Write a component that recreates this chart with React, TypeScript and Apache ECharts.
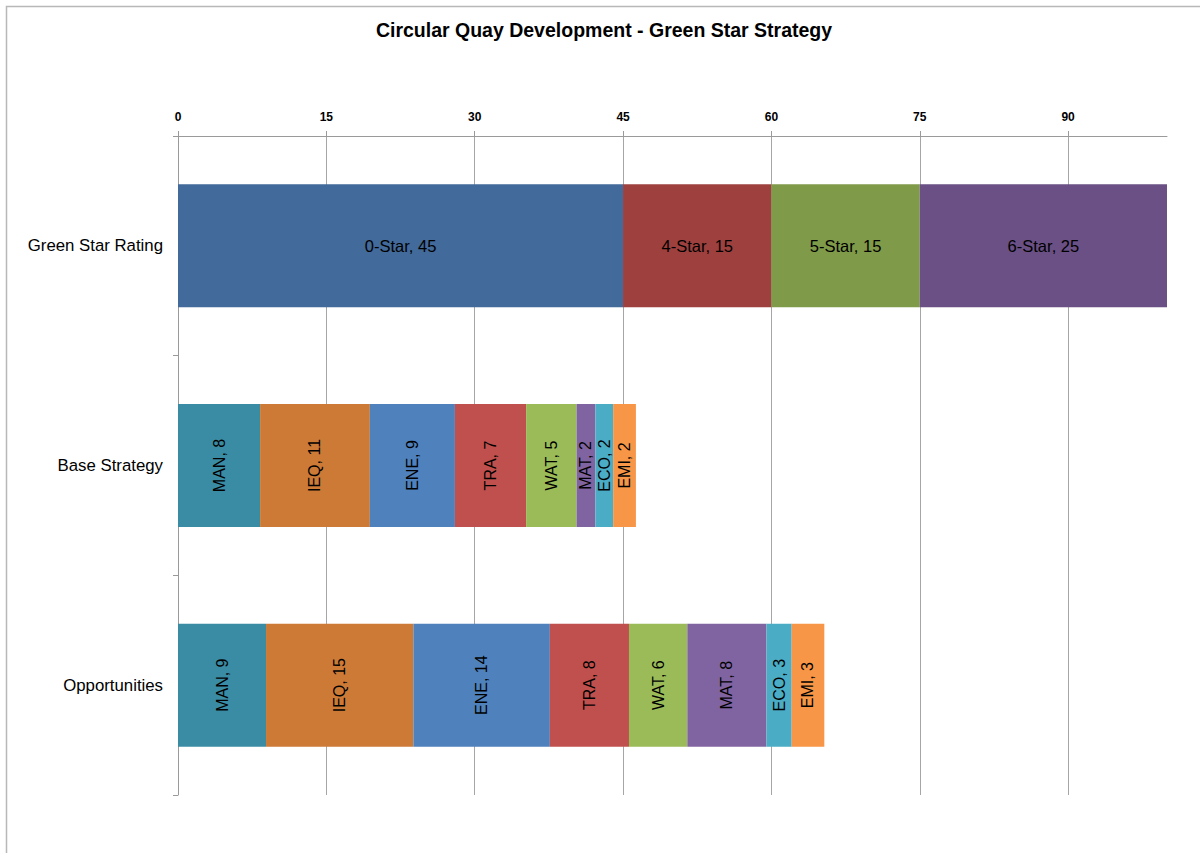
import React, { useEffect, useRef } from 'react';
import * as echarts from 'echarts';

const categories = ['Green Star Rating', 'Base Strategy', 'Opportunities'];
const ratingNames = ['0-Star', '4-Star', '5-Star', '6-Star'];
const ratingValues = [45, 15, 15, 25];
const ratingColors = ['#426A9A', '#9E403E', '#7F9A48', '#6A5085'];
const creditNames = ['MAN', 'IEQ', 'ENE', 'TRA', 'WAT', 'MAT', 'ECO', 'EMI'];
const baseValues = [8.3, 11.1, 8.6, 7.2, 5.1, 1.9, 1.8, 2.3];
const opportunityValues = [8.9, 14.9, 13.8, 8.0, 5.9, 8.0, 2.55, 3.3];
const creditColors = ['#3A8CA4', '#CD7A37', '#4F81BD', '#C0504D', '#9BBB59', '#8064A2', '#4BACC6', '#F79646'];
const axisMin = 0;
const axisMax = 100;
const axisInterval = 15;
const titleText = 'Circular Quay Development - Green Star Strategy';

const FONT = '"Liberation Sans", Arial, sans-serif';

export default function App() {
  const ref = useRef<HTMLDivElement>(null);
  useEffect(() => {
    if (!ref.current) return;
    const chart = echarts.init(ref.current, null, { renderer: 'svg' });
    const labelFmt = (p: any) => `${p.seriesName}, ${Math.round(p.value)}`;
    const ratingSeries = ratingNames.map((name, i) => ({
      name,
      type: 'bar',
      stack: 'total',
      barCategoryGap: '44%',
      data: [ratingValues[i], '-', '-'],
      itemStyle: { color: ratingColors[i] },
      label: {
        show: true,
        position: 'inside',
        formatter: labelFmt,
        color: '#000',
        fontSize: 16.5,
        fontFamily: FONT,
      },
    }));
    const creditSeries = creditNames.map((name, i) => ({
      name,
      type: 'bar',
      stack: 'total',
      barCategoryGap: '44%',
      data: ['-', baseValues[i], opportunityValues[i]],
      itemStyle: { color: creditColors[i] },
      label: {
        show: true,
        position: 'inside',
        rotate: 90,
        formatter: labelFmt,
        color: '#000',
        fontSize: 16,
        fontFamily: FONT,
      },
    }));
    chart.setOption({
      animation: false,
      backgroundColor: '#fff',
      textStyle: { fontFamily: FONT },
      title: {
        text: titleText,
        left: 604,
        textAlign: 'center',
        top: 20,
        padding: 0,
        textStyle: { fontSize: 19.5, fontWeight: 'bold', color: '#000', fontFamily: FONT },
      },
      graphic: [
        {
          type: 'rect',
          shape: { x: 6.5, y: 6.5, width: 1300, height: 1000 },
          style: { fill: 'none', stroke: '#B8B8B8', lineWidth: 1.5 },
          silent: true,
          z: -1,
        },
      ],
      grid: { left: 178, right: 33, top: 136, bottom: 58, containLabel: false },
      xAxis: {
        type: 'value',
        position: 'top',
        min: axisMin,
        max: axisMax,
        interval: axisInterval,
        axisLine: { show: true, lineStyle: { color: '#9A9A9A', width: 1 } },
        axisTick: { show: true, length: 5, lineStyle: { color: '#9A9A9A' } },
        axisLabel: {
          showMaxLabel: false,
          margin: 13,
          fontSize: 12,
          fontWeight: 'bold',
          color: '#000',
          fontFamily: FONT,
        },
        splitLine: { show: true, showMaxLine: false, lineStyle: { color: '#A6A6A6', width: 1 } },
      },
      yAxis: {
        type: 'category',
        inverse: true,
        data: categories,
        axisLine: { show: true, lineStyle: { color: '#9A9A9A', width: 1 } },
        axisTick: { show: true, length: 5, lineStyle: { color: '#9A9A9A' } },
        axisLabel: { margin: 15, fontSize: 16.8, color: '#000', fontFamily: FONT },
        splitLine: { show: false },
      },
      series: [...ratingSeries, ...creditSeries],
    });
    return () => chart.dispose();
  }, []);
  return (
    <div
      ref={ref}
      style={{ position: 'absolute', left: 0, top: 0, width: 1200, height: 853 }}
    />
  );
}
